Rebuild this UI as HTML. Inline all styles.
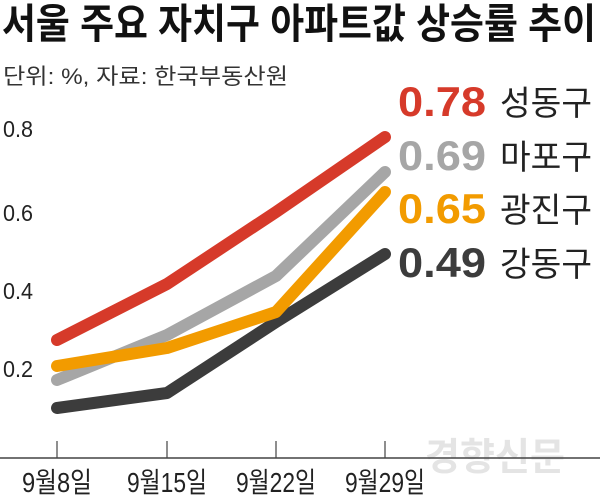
<!DOCTYPE html>
<html><head><meta charset="utf-8"><style>
html,body{margin:0;padding:0;background:#fff;}
svg{display:block;}
text{font-family:"Liberation Sans","Noto Sans CJK KR",sans-serif;}
</style></head><body>
<svg width="600" height="498" viewBox="0 0 600 498" xmlns="http://www.w3.org/2000/svg">
<text x="2" y="38" font-size="41" font-weight="bold" fill="#111" textLength="594" lengthAdjust="spacingAndGlyphs">서울 주요 자치구 아파트값 상승률 추이</text>
<text x="3" y="84" font-size="22" fill="#333" textLength="285" lengthAdjust="spacingAndGlyphs">단위: %, 자료: 한국부동산원</text>
<g font-size="23" fill="#222">
<text x="3" y="137" textLength="30" lengthAdjust="spacingAndGlyphs">0.8</text>
<text x="3" y="221" textLength="30" lengthAdjust="spacingAndGlyphs">0.6</text>
<text x="3" y="299" textLength="30" lengthAdjust="spacingAndGlyphs">0.4</text>
<text x="3" y="377" textLength="30" lengthAdjust="spacingAndGlyphs">0.2</text>
</g>
<text x="425" y="470" font-size="38" font-weight="bold" fill="#e4e4e4" textLength="140" lengthAdjust="spacingAndGlyphs">경향신문</text>
<line x1="0" y1="458" x2="600" y2="458" stroke="#444" stroke-width="1.5"/>
<g stroke="#444" stroke-width="1.2">
<line x1="57" y1="441" x2="57" y2="458"/><line x1="167" y1="441" x2="167" y2="458"/>
<line x1="276" y1="441" x2="276" y2="458"/><line x1="385" y1="441" x2="385" y2="458"/>
</g>
<g font-size="28" fill="#222" text-anchor="middle">
<text x="57" y="492" textLength="70" lengthAdjust="spacingAndGlyphs">9월8일</text>
<text x="167" y="492" textLength="80" lengthAdjust="spacingAndGlyphs">9월15일</text>
<text x="276" y="492" textLength="80" lengthAdjust="spacingAndGlyphs">9월22일</text>
<text x="385" y="492" textLength="80" lengthAdjust="spacingAndGlyphs">9월29일</text>
</g>
<g fill="none" stroke-width="12" stroke-linecap="round" stroke-linejoin="round">
<polyline stroke="#a6a6a6" points="57,380 167,335 276,276 385,172"/>
<polyline stroke="#3c3c3c" points="57,408 167,393 276,322 385,254"/>
<polyline stroke="#f29b00" points="57,366 167,348 276,312 385,192"/>
<polyline stroke="#d63a2a" points="57,340 167,284 276,212 385,137"/>
</g>
<g font-size="42" font-weight="bold">
<text x="398" y="116" fill="#d63a2a" textLength="88" lengthAdjust="spacingAndGlyphs">0.78</text>
<text x="398" y="170" fill="#a6a6a6" textLength="88" lengthAdjust="spacingAndGlyphs">0.69</text>
<text x="398" y="223" fill="#f29b00" textLength="88" lengthAdjust="spacingAndGlyphs">0.65</text>
<text x="398" y="277" fill="#3c3c3c" textLength="88" lengthAdjust="spacingAndGlyphs">0.49</text>
</g>
<g font-size="34" fill="#222">
<text x="500" y="115" textLength="92" lengthAdjust="spacingAndGlyphs">성동구</text>
<text x="500" y="169" textLength="92" lengthAdjust="spacingAndGlyphs">마포구</text>
<text x="500" y="222" textLength="92" lengthAdjust="spacingAndGlyphs">광진구</text>
<text x="500" y="276" textLength="92" lengthAdjust="spacingAndGlyphs">강동구</text>
</g>
</svg>
</body></html>
